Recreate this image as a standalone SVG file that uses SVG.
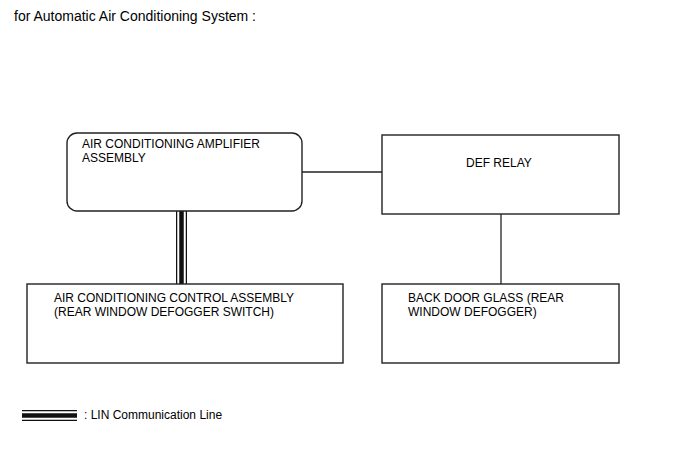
<svg xmlns="http://www.w3.org/2000/svg" width="688" height="463" viewBox="0 0 688 463">
<style>
text{font-family:"Liberation Sans",Arial,sans-serif;fill:#000}
.t{font-size:14px}
.n{font-size:12px}
.box{fill:#fff;stroke:#222;stroke-width:1.4}
.w{stroke:#222;stroke-width:1.3;fill:none}
</style>
<rect width="688" height="463" fill="#fff"/>
<text class="t" x="14" y="21">for Automatic Air Conditioning System :</text>
<g id="connectors">
<line class="w" x1="302" y1="172" x2="382" y2="172"/>
<line class="w" x1="501" y1="214" x2="501" y2="284"/>
<g id="lin">
<line x1="181.5" y1="211" x2="181.5" y2="284" stroke="#111" stroke-width="11"/>
<line x1="181.5" y1="211" x2="181.5" y2="284" stroke="#fff" stroke-width="8.5"/>
<line x1="181.5" y1="211" x2="181.5" y2="284" stroke="#111" stroke-width="4.5"/>
</g>
</g>
<g id="amplifier">
<rect class="box" x="67" y="133" width="235" height="78" rx="10"/>
<text class="n" x="82" y="148">AIR CONDITIONING AMPLIFIER</text>
<text class="n" x="82" y="162">ASSEMBLY</text>
</g>
<g id="def-relay">
<rect class="box" x="382" y="135" width="237" height="79"/>
<text class="n" x="466" y="167">DEF RELAY</text>
</g>
<g id="control">
<rect class="box" x="27" y="284" width="316" height="79"/>
<text class="n" x="54" y="302">AIR CONDITIONING CONTROL ASSEMBLY</text>
<text class="n" x="54" y="316">(REAR WINDOW DEFOGGER SWITCH)</text>
</g>
<g id="back-door">
<rect class="box" x="382" y="284" width="237" height="79"/>
<text class="n" x="408" y="302">BACK DOOR GLASS (REAR</text>
<text class="n" x="408" y="316">WINDOW DEFOGGER)</text>
</g>
<g id="legend">
<line x1="22" y1="415.5" x2="77" y2="415.5" stroke="#111" stroke-width="11"/>
<line x1="22" y1="415.5" x2="77" y2="415.5" stroke="#fff" stroke-width="8.5"/>
<line x1="22" y1="415.5" x2="77" y2="415.5" stroke="#111" stroke-width="4.5"/>
<text class="n" x="84" y="419">: LIN Communication Line</text>
</g>
</svg>
